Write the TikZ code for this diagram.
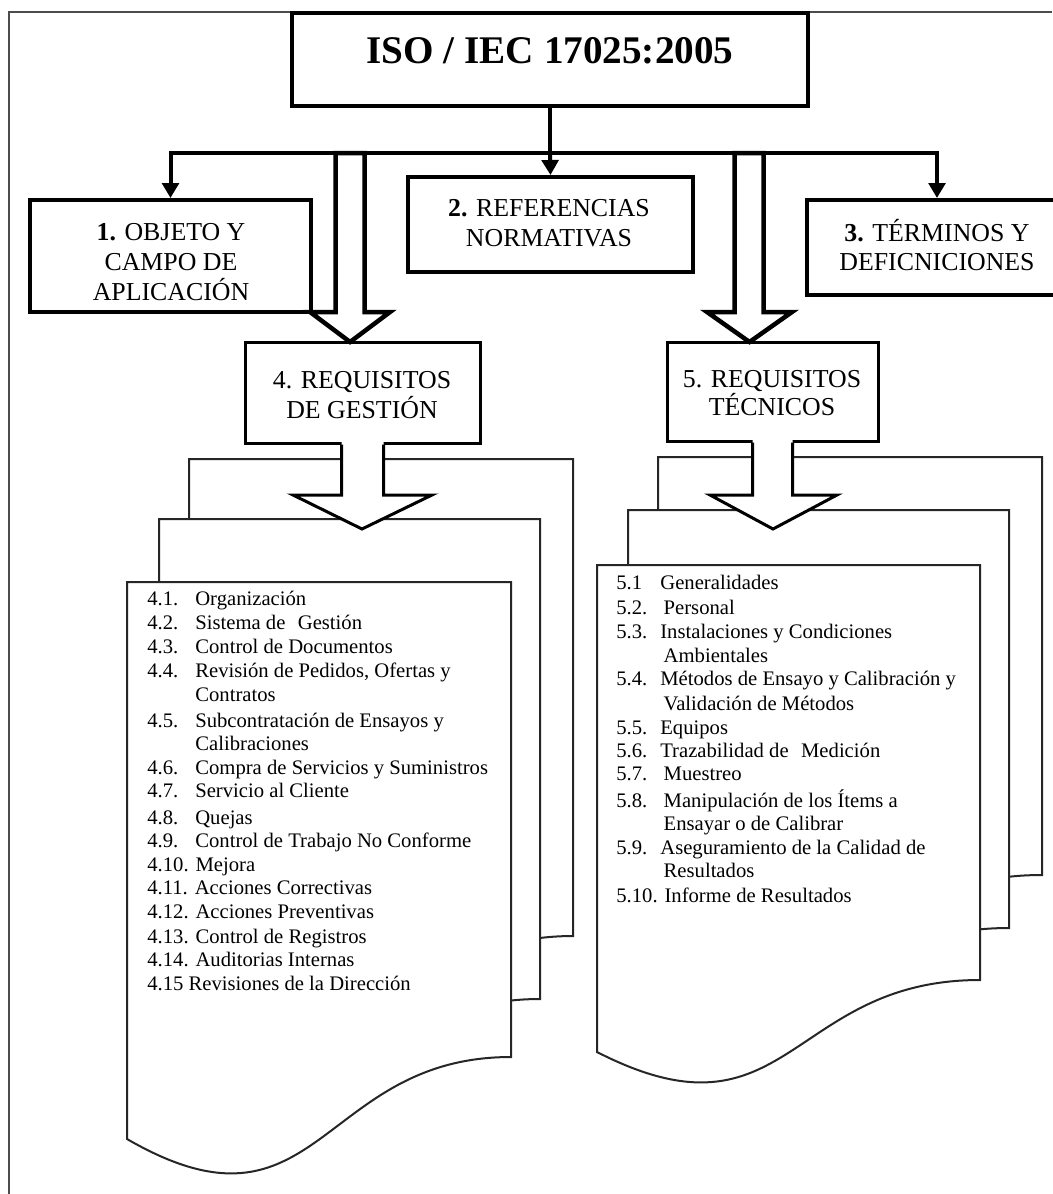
\documentclass[tikz,border=0pt]{standalone}
\usepackage{fontspec}
\setmainfont{Liberation Serif}
\usetikzlibrary{arrows.meta,calc}

\tikzset{
  boxthick/.style={draw, line width=2.4pt, fill=white, inner sep=0pt},
  boxmid/.style={draw, line width=1.8pt, fill=white, inner sep=0pt},
  boxlabel/.style={align=center, inner sep=0pt, font=\fontsize{15.5}{18}\selectfont},
  titlelabel/.style={inner sep=0pt, font=\fontsize{23.5}{28}\selectfont\bfseries},
  conn/.style={line width=2.4pt, line join=miter, -{Triangle[width=10pt,length=9pt]}},
  blockarrow/.style={line width=2.7pt, fill=white, line join=miter},
  lowarrow/.style={line width=1.8pt, line join=miter},
  docpage/.style={line width=1.2pt, draw=black!85, fill=white},
  item/.style={anchor=base west, inner sep=0pt, font=\fontsize{12.4}{14}\selectfont},
  framel/.style={line width=1.4pt, draw=black!70},
}
\newcommand{\numL}[1]{\makebox[28.8pt][l]{#1}}
\newcommand{\numR}[1]{\makebox[26.4pt][l]{#1}}

\begin{document}
\begin{tikzpicture}[x=0.6pt,y=-0.6pt]
\useasboundingbox (0,0) rectangle (1052,1194);

% outer frame (clipped by page on right and bottom)
\draw[framel] (9,1194) -- (9,12) -- (1052,12);

% boxes
\node[boxthick, minimum width=309.6pt, minimum height=55.8pt] (top) at (550,59.5) {};
\node[titlelabel] (title) at (550,51) {ISO / IEC 17025:2005};

\node[boxthick, minimum width=168.6pt, minimum height=67.2pt] (b1) at (170.5,256) {};
\node[boxlabel] (t1) at (171,262) {\textbf{1.} OBJETO Y\\CAMPO DE\\APLICACIÓN};

\node[boxthick, minimum width=171pt, minimum height=57pt] (b2) at (550.5,224.5) {};
\node[boxlabel] (t2) at (549,223) {\textbf{2.} REFERENCIAS\\NORMATIVAS};

\node[boxthick, minimum width=156pt, minimum height=57pt] (b3) at (937,247.5) {};
\node[boxlabel, font=\fontsize{15.5}{17}\selectfont] (t3) at (937,245) {\textbf{3.} TÉRMINOS Y\\DEFICNICIONES};

\node[boxmid, minimum width=141pt, minimum height=60.6pt] (b4) at (362.5,392.5) {};
\node[boxlabel] (t4) at (362,395) {4. REQUISITOS\\DE GESTIÓN};

\node[boxmid, minimum width=126.6pt, minimum height=59.4pt] (b5) at (772.5,391.5) {};
\node[boxlabel, font=\fontsize{15.5}{17}\selectfont] (t5) at (772,393) {5. REQUISITOS\\TÉCNICOS};

% upper block arrows (bar -> boxes 4 and 5)
\draw[blockarrow] (335.5,153) -- (335.5,312) -- (310,312) -- (350,342) -- (390,312) -- (364.5,312) -- (364.5,153) -- cycle;
\draw[blockarrow] (734.5,153) -- (734.5,312) -- (707,312) -- (749.5,342) -- (792,312) -- (763.5,312) -- (763.5,153) -- cycle;

% connectors from the top box
\coordinate (junc) at (top.south |- 0,153);
\draw[line width=2.4pt] (top.south) -- (junc);
\draw[conn] (junc) -- (b2.north);
\draw[conn] (junc) -| (b1.north);
\draw[conn] (junc) -| (b3.north);

% document pages, left stack
\draw[docpage] (189,459) -- (573,459) -- (573,936) .. controls (381,936) and (381,1125) .. (189,1015) -- cycle;
\draw[docpage] (159,519) -- (540,519) -- (540,999) .. controls (349.5,999) and (349.5,1185) .. (159,1078) -- cycle;
\draw[docpage] (127,582) -- (511,582) -- (511,1057) .. controls (319,1057) and (319,1250) .. (127,1139) -- cycle;

% document pages, right stack
\draw[docpage] (658,457) -- (1042,457) -- (1042,875) .. controls (850,875) and (850,1040) .. (658,946) -- cycle;
\draw[docpage] (628,510) -- (1009,510) -- (1009,928) .. controls (818.5,928) and (818.5,1093) .. (628,999) -- cycle;
\draw[docpage] (597,565) -- (980,565) -- (980,980) .. controls (788.5,980) and (788.5,1150) .. (597,1052) -- cycle;

% lower block arrows (boxes 4 and 5 -> pages)
\fill[white] (341.5,440) -- (341.5,495) -- (293,495) -- (362,529) -- (432,495) -- (383.5,495) -- (383.5,440) -- cycle;
\draw[lowarrow] (b4.south -| 341.5,0) -- (341.5,495) -- (293,495) -- (362,529) -- (432,495) -- (383.5,495) -- (b4.south -| 383.5,0);
\fill[white] (752.5,438) -- (752.5,495) -- (710,495) -- (773,529) -- (837,495) -- (792.5,495) -- (792.5,438) -- cycle;
\draw[lowarrow] (b5.south -| 752.5,0) -- (752.5,495) -- (710,495) -- (773,529) -- (837,495) -- (792.5,495) -- (b5.south -| 792.5,0);

% left list
\node[item] (l1) at (147,605) {\numL{4.1.}Organización};
\node[item] (l2) at (147,629) {\numL{4.2.}Sistema de\hspace{0.6em}Gestión};
\node[item] (l3) at (147,653) {\numL{4.3.}Control de Documentos};
\node[item] (l4) at (147,677) {\numL{4.4.}Revisión de Pedidos, Ofertas y};
\node[item] (l4b) at (147,701) {\numL{}Contratos};
\node[item] (l5) at (147,727) {\numL{4.5.}Subcontratación de Ensayos y};
\node[item] (l5b) at (147,750) {\numL{}Calibraciones};
\node[item] (l6) at (147,774) {\numL{4.6.}Compra de Servicios y Suministros};
\node[item] (l7) at (147,797) {\numL{4.7.}Servicio al Cliente};
\node[item] (l8) at (147,824) {\numL{4.8.}Quejas};
\node[item] (l9) at (147,847) {\numL{4.9.}Control de Trabajo No Conforme};
\node[item] (l10) at (147,871) {4.10. Mejora};
\node[item] (l11) at (147,894) {4.11. Acciones Correctivas};
\node[item] (l12) at (147,918) {4.12. Acciones Preventivas};
\node[item] (l13) at (147,943) {4.13. Control de Registros};
\node[item] (l14) at (147,966) {4.14. Auditorias Internas};
\node[item] (l15) at (147,990) {4.15 Revisiones de la Dirección};

% right list
\node[item] (r1) at (616,589) {\numR{5.1}Generalidades};
\node[item] (r2) at (616,614) {\numR{5.2.}\hspace{2pt}Personal};
\node[item] (r3) at (616,638) {\numR{5.3.}Instalaciones y Condiciones};
\node[item] (r3b) at (616,662) {\numR{}\hspace{2pt}Ambientales};
\node[item] (r4) at (616,685) {\numR{5.4.}Métodos de Ensayo y Calibración y};
\node[item] (r4b) at (616,710) {\numR{}\hspace{2pt}Validación de Métodos};
\node[item] (r5) at (616,734) {\numR{5.5.}Equipos};
\node[item] (r6) at (616,757) {\numR{5.6.}Trazabilidad de\hspace{0.6em}Medición};
\node[item] (r7) at (616,780) {\numR{5.7.}\hspace{2pt}Muestreo};
\node[item] (r8) at (616,807) {\numR{5.8.}\hspace{2pt}Manipulación de los Ítems a};
\node[item] (r8b) at (616,830) {\numR{}\hspace{2pt}Ensayar o de Calibrar};
\node[item] (r9) at (616,854) {\numR{5.9.}Aseguramiento de la Calidad de};
\node[item] (r9b) at (616,877) {\numR{}\hspace{2pt}Resultados};
\node[item] (r10) at (616,902) {5.10. Informe de Resultados};
\end{tikzpicture}
\end{document}
